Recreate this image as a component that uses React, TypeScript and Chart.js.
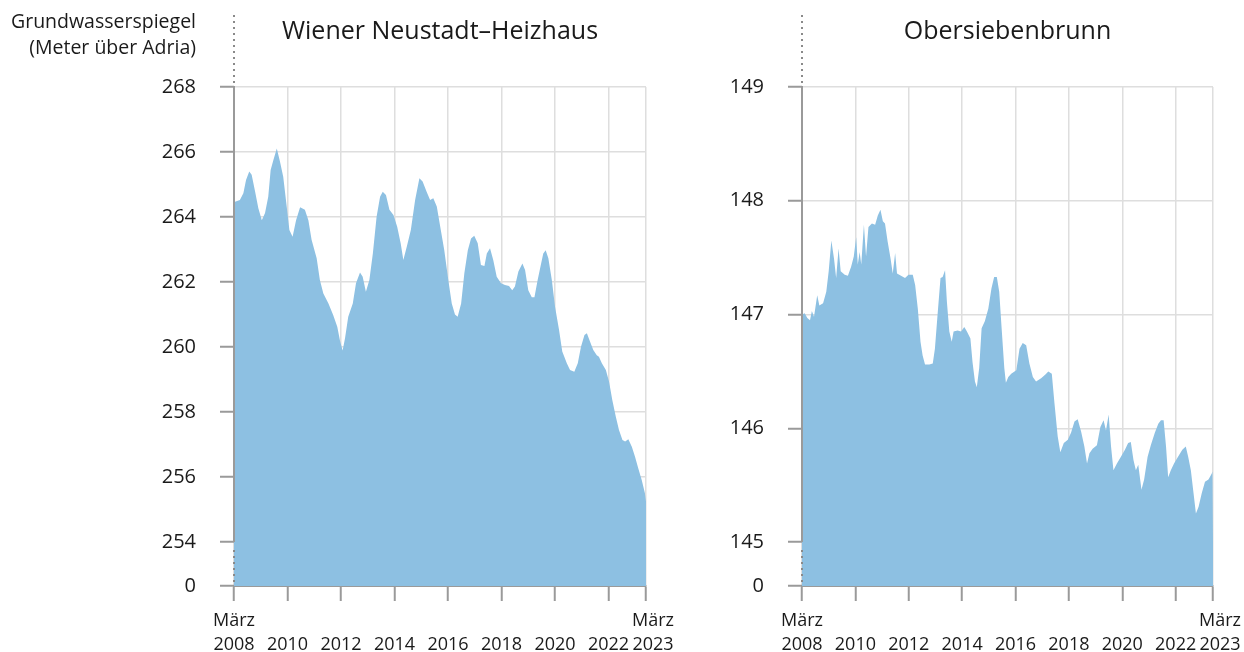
import React, { useEffect, useRef } from 'react';
import { Chart, registerables } from 'chart.js';

Chart.register(...registerables);

// ---------- data ----------
const X_TICK_YEARS = [2008, 2010, 2012, 2014, 2016, 2018, 2020, 2022, 2023.4];
const X_MIN = 2008;
const X_MAX = 2023.4;
const X_START_LABEL = ['März', '2008'];
const X_END_LABEL = ['März', '2023'];

const Y_AXIS_TITLE = ['Grundwasserspiegel', '(Meter über Adria)'];

const NEUSTADT_TITLE = 'Wiener Neustadt–Heizhaus';
const NEUSTADT_Y_TICKS = [254, 256, 258, 260, 262, 264, 266, 268];
const NEUSTADT_YEARS = [
  2008.00, 2008.04, 2008.22, 2008.35, 2008.45, 2008.57, 2008.66, 2008.79, 2008.91, 2009.04,
  2009.16, 2009.28, 2009.37, 2009.47, 2009.60, 2009.72, 2009.84, 2009.97, 2010.07, 2010.19,
  2010.32, 2010.47, 2010.65, 2010.78, 2010.90, 2011.09, 2011.21, 2011.34, 2011.53, 2011.71,
  2011.86, 2011.96, 2012.06, 2012.15, 2012.27, 2012.44, 2012.56, 2012.71, 2012.81, 2012.93,
  2013.06, 2013.19, 2013.33, 2013.46, 2013.56, 2013.68, 2013.81, 2013.96, 2014.10, 2014.23,
  2014.33, 2014.46, 2014.61, 2014.77, 2014.93, 2015.05, 2015.20, 2015.33, 2015.45, 2015.58,
  2015.73, 2015.86, 2016.01, 2016.14, 2016.26, 2016.36, 2016.49, 2016.61, 2016.74, 2016.86,
  2016.98, 2017.11, 2017.23, 2017.36, 2017.45, 2017.57, 2017.69, 2017.82, 2017.98, 2018.13,
  2018.28, 2018.40, 2018.50, 2018.63, 2018.78, 2018.88, 2019.00, 2019.13, 2019.23, 2019.35,
  2019.48, 2019.56, 2019.65, 2019.75, 2019.88, 2020.00, 2020.15, 2020.27, 2020.44, 2020.56,
  2020.72, 2020.85, 2020.97, 2021.10, 2021.19, 2021.31, 2021.43, 2021.56, 2021.64, 2021.75,
  2021.90, 2022.02, 2022.14, 2022.27, 2022.39, 2022.52, 2022.62, 2022.74, 2022.87, 2022.99,
  2023.11, 2023.24, 2023.36, 2023.40,
];
const NEUSTADT_LEVELS = [
  264.5, 264.47, 264.52, 264.73, 265.14, 265.4, 265.3, 264.78, 264.27, 263.9,
  264.12, 264.62, 265.45, 265.75, 266.11, 265.7, 265.24, 264.32, 263.6, 263.39,
  263.9, 264.3, 264.22, 263.9, 263.3, 262.73, 262.06, 261.65, 261.34, 260.98,
  260.62, 260.2, 259.89, 260.27, 260.93, 261.34, 261.96, 262.29, 262.16, 261.7,
  262.06, 262.88, 264.01, 264.62, 264.78, 264.68, 264.22, 264.06, 263.7, 263.19,
  262.68, 263.09, 263.6, 264.52, 265.19, 265.09, 264.78, 264.52, 264.58, 264.32,
  263.6, 262.98, 262.06, 261.34, 261.0, 260.93, 261.34, 262.27, 262.98, 263.34,
  263.42, 263.19, 262.52, 262.49, 262.88, 263.04, 262.68, 262.16, 261.96, 261.91,
  261.88, 261.75, 261.86, 262.32, 262.57, 262.37, 261.75, 261.53, 261.53, 262.06,
  262.57, 262.88, 262.98, 262.73, 262.06, 261.24, 260.52, 259.86, 259.5, 259.29,
  259.24, 259.5, 260.01, 260.37, 260.42, 260.16, 259.91, 259.75, 259.7, 259.5,
  259.29, 258.93, 258.37, 257.86, 257.45, 257.14, 257.09, 257.16, 256.93, 256.62,
  256.27, 255.91, 255.5, 255.25,
];

const OBERSIEBENBRUNN_TITLE = 'Obersiebenbrunn';
const OBERSIEBENBRUNN_Y_TICKS = [145, 146, 147, 148, 149];
const OBERSIEBENBRUNN_YEARS = [
  2008.00, 2008.10, 2008.20, 2008.30, 2008.37, 2008.45, 2008.57, 2008.65, 2008.79, 2008.91,
  2009.00, 2009.10, 2009.20, 2009.28, 2009.37, 2009.45, 2009.60, 2009.72, 2009.84, 2009.94,
  2010.03, 2010.09, 2010.16, 2010.22, 2010.32, 2010.40, 2010.49, 2010.62, 2010.74, 2010.84,
  2010.94, 2011.03, 2011.11, 2011.21, 2011.32, 2011.40, 2011.49, 2011.56, 2011.71, 2011.86,
  2011.99, 2012.15, 2012.24, 2012.34, 2012.44, 2012.52, 2012.61, 2012.77, 2012.90, 2012.98,
  2013.08, 2013.19, 2013.27, 2013.36, 2013.43, 2013.52, 2013.61, 2013.68, 2013.83, 2013.96,
  2014.08, 2014.18, 2014.31, 2014.39, 2014.48, 2014.55, 2014.64, 2014.73, 2014.85, 2014.98,
  2015.10, 2015.20, 2015.30, 2015.39, 2015.48, 2015.58, 2015.64, 2015.73, 2015.84, 2016.03,
  2016.15, 2016.27, 2016.40, 2016.52, 2016.65, 2016.77, 2016.96, 2017.11, 2017.23, 2017.36,
  2017.46, 2017.58, 2017.68, 2017.81, 2017.96, 2018.08, 2018.21, 2018.33, 2018.46, 2018.58,
  2018.68, 2018.77, 2018.89, 2019.05, 2019.18, 2019.30, 2019.39, 2019.49, 2019.58, 2019.67,
  2019.80, 2019.95, 2020.10, 2020.22, 2020.32, 2020.42, 2020.51, 2020.60, 2020.72, 2020.82,
  2020.95, 2021.07, 2021.22, 2021.35, 2021.45, 2021.55, 2021.64, 2021.72, 2021.82, 2021.94,
  2022.09, 2022.25, 2022.38, 2022.47, 2022.57, 2022.67, 2022.76, 2022.86, 2022.98, 2023.10,
  2023.23, 2023.35, 2023.38, 2023.40,
];
const OBERSIEBENBRUNN_LEVELS = [
  147.0, 147.01, 146.97, 146.95, 147.03, 146.98, 147.17, 147.08, 147.1, 147.2,
  147.38, 147.65, 147.49, 147.32, 147.58, 147.38, 147.35, 147.34, 147.42, 147.51,
  147.68, 147.44, 147.55, 147.44, 147.79, 147.51, 147.77, 147.8, 147.79, 147.87,
  147.92, 147.82, 147.8, 147.64, 147.49, 147.36, 147.54, 147.36, 147.34, 147.32,
  147.35, 147.35, 147.26, 147.05, 146.76, 146.64, 146.56, 146.56, 146.57, 146.7,
  147.0, 147.32, 147.33, 147.39, 147.11, 146.85, 146.76, 146.85, 146.86, 146.85,
  146.89, 146.85, 146.79, 146.58, 146.41, 146.36, 146.53, 146.88, 146.94, 147.05,
  147.23, 147.33, 147.33, 147.2, 146.88, 146.53, 146.4, 146.45, 146.48, 146.51,
  146.7, 146.75, 146.73, 146.57, 146.45, 146.41, 146.44, 146.47, 146.5, 146.48,
  146.22, 145.93, 145.79, 145.87, 145.9, 145.96, 146.06, 146.08, 145.97, 145.84,
  145.69, 145.78, 145.82, 145.85, 146.01, 146.07, 145.98, 146.12, 145.84, 145.63,
  145.69, 145.75, 145.81, 145.87, 145.88, 145.72, 145.63, 145.68, 145.46, 145.55,
  145.75, 145.85, 145.96, 146.04, 146.07, 146.07, 145.84, 145.57, 145.63, 145.69,
  145.75, 145.81, 145.84, 145.75, 145.63, 145.43, 145.25, 145.31, 145.43, 145.53,
  145.55, 145.6, 145.62, 145.0,
];

// ---------- style / layout ----------
const FONT = '"Open Sans", "Noto Sans", sans-serif';
const FILL_COLOR = '#8dc0e2';
const GRID_COLOR = '#dedede';
const AXIS_COLOR = '#9a9a9a';
const DOT_COLOR = '#8a8a8a';
const TEXT_COLOR = '#1a1a1a';
const CANVAS_HEIGHT = 652;
const PLOT_TOP = 87;
const X_AXIS_HEIGHT = 66;
const BREAK_GAP_PX = 44;
const END_LABEL_SHIFT = '   '; // nudges the last tick label slightly right, as in the original

type PanelProps = {
  title: string;
  years: number[];
  levels: number[];
  yTicks: number[];
  yTitle?: string[];
  left: number;
  width: number;
  yAxisWidth: number;
  rightPadding: number;
};

function Panel({ title, years, levels, yTicks, yTitle, left, width, yAxisWidth, rightPadding }: PanelProps) {
  const ref = useRef<HTMLCanvasElement | null>(null);

  useEffect(() => {
    if (!ref.current) return;
    const plotHeight = CANVAS_HEIGHT - PLOT_TOP - X_AXIS_HEIGHT;
    const f = BREAK_GAP_PX / plotHeight;
    const low = yTicks[0];
    const high = yTicks[yTicks.length - 1];
    const yMin = low - ((high - low) * f) / (1 - f);
    const isZero = (v: number) => Math.abs(v - yMin) < 1e-6;

    const decor = {
      id: 'decor',
      afterDraw(chart: any) {
        const { ctx, chartArea, scales } = chart;
        const y = scales.y;
        const x0 = chartArea.left;
        const yBreak = y.getPixelForValue(low);
        ctx.save();
        // solid axis line
        ctx.strokeStyle = AXIS_COLOR;
        ctx.lineWidth = 2;
        ctx.beginPath();
        ctx.moveTo(x0, chartArea.top - 1);
        ctx.lineTo(x0, yBreak);
        ctx.stroke();
        // dotted lines (break and top extension)
        ctx.strokeStyle = DOT_COLOR;
        ctx.lineWidth = 2;
        ctx.setLineDash([2, 4]);
        ctx.beginPath();
        ctx.moveTo(x0, yBreak + 8);
        ctx.lineTo(x0, chartArea.bottom - 3);
        ctx.stroke();
        ctx.beginPath();
        ctx.moveTo(x0, chartArea.top - 72);
        ctx.lineTo(x0, chartArea.top - 4);
        ctx.stroke();
        ctx.setLineDash([]);
        // title
        ctx.fillStyle = TEXT_COLOR;
        ctx.font = `25px ${FONT}`;
        ctx.textAlign = 'center';
        ctx.textBaseline = 'middle';
        ctx.fillText(title, (chartArea.left + chartArea.right) / 2, 32);
        // y-axis title
        if (yTitle) {
          ctx.font = `19.5px ${FONT}`;
          ctx.textAlign = 'right';
          yTitle.forEach((line, i) => {
            ctx.fillText(line, chartArea.left - 38, 22 + i * 26);
          });
        }
        ctx.restore();
      },
    };

    const chart = new Chart(ref.current, {
      type: 'line',
      data: {
        datasets: [
          {
            data: years.map((yr, i) => ({ x: yr, y: levels[i] })),
            fill: 'start',
            backgroundColor: FILL_COLOR,
            borderWidth: 0,
            borderColor: FILL_COLOR,
            pointRadius: 0,
            tension: 0,
          },
        ],
      },
      options: {
        responsive: false,
        animation: false,
        events: [],
        layout: { padding: { top: PLOT_TOP, right: rightPadding, bottom: 0, left: 0 } },
        plugins: { legend: { display: false }, tooltip: { enabled: false }, title: { display: false } },
        scales: {
          x: {
            type: 'linear',
            min: X_MIN,
            max: X_MAX,
            afterBuildTicks: (s: any) => {
              s.ticks = X_TICK_YEARS.map((value) => ({ value }));
            },
            afterFit: (s: any) => {
              s.height = X_AXIS_HEIGHT;
            },
            grid: {
              color: GRID_COLOR,
              lineWidth: 1.5,
              tickColor: AXIS_COLOR,
              tickWidth: 2,
              tickLength: 15,
            },
            border: { display: true, color: AXIS_COLOR, width: 2 },
            ticks: {
              autoSkip: false,
              maxRotation: 0,
              padding: 8,
              color: TEXT_COLOR,
              font: { family: FONT, size: 18, lineHeight: 1.33 },
              callback: (v: any) => {
                const n = Number(v);
                if (n === X_TICK_YEARS[0]) return X_START_LABEL;
                if (n === X_TICK_YEARS[X_TICK_YEARS.length - 1]) return X_END_LABEL.map((s) => END_LABEL_SHIFT + s);
                return ['', String(n)];
              },
            },
          },
          y: {
            type: 'linear',
            min: yMin,
            max: high,
            afterBuildTicks: (s: any) => {
              s.ticks = [yMin, ...yTicks].map((value) => ({ value }));
            },
            afterFit: (s: any) => {
              s.width = yAxisWidth;
            },
            grid: {
              color: GRID_COLOR,
              lineWidth: 1.5,
              tickColor: AXIS_COLOR,
              tickWidth: 2,
              tickLength: 14,
            },
            border: { display: false },
            ticks: {
              padding: 24,
              color: TEXT_COLOR,
              font: { family: FONT, size: 20 },
              callback: (v: any) => (isZero(Number(v)) ? '0' : String(v)),
            },
          },
        },
      },
      plugins: [decor],
    } as any);

    return () => chart.destroy();
  }, [title, years, levels, yTicks, yTitle, yAxisWidth, rightPadding]);

  return (
    <canvas
      ref={ref}
      width={width}
      height={CANVAS_HEIGHT}
      style={{ position: 'absolute', left, top: 0, width, height: CANVAS_HEIGHT }}
    />
  );
}

export default function App() {
  return (
    <div style={{ position: 'absolute', left: 0, top: 0, width: 1244, height: 652, background: '#fff', overflow: 'hidden' }}>
      <Panel
        title={NEUSTADT_TITLE}
        years={NEUSTADT_YEARS}
        levels={NEUSTADT_LEVELS}
        yTicks={NEUSTADT_Y_TICKS}
        yTitle={Y_AXIS_TITLE}
        left={0}
        width={720}
        yAxisWidth={234}
        rightPadding={74}
      />
      <Panel
        title={OBERSIEBENBRUNN_TITLE}
        years={OBERSIEBENBRUNN_YEARS}
        levels={OBERSIEBENBRUNN_LEVELS}
        yTicks={OBERSIEBENBRUNN_Y_TICKS}
        left={720}
        width={580}
        yAxisWidth={82}
        rightPadding={87}
      />
    </div>
  );
}
